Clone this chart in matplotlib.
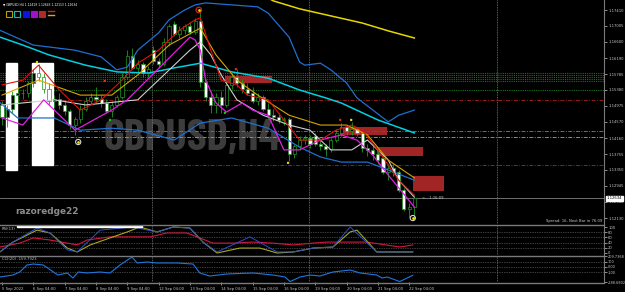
import matplotlib
matplotlib.use("Agg")
import matplotlib.pyplot as plt
from matplotlib.patches import Rectangle

W, H = 625, 292

# ---- price data (GBPUSD H4, 5 Sep 04:00 .. 22 Sep 08:00) ----
opens = [1.1500, 1.1470, 1.1490, 1.1525, 1.1530, 1.1530, 1.1555, 1.1580, 1.1570, 1.1540,
         1.1510, 1.1515, 1.1500, 1.1485, 1.1450, 1.1465, 1.1490, 1.1510, 1.1520, 1.1515,
         1.1505, 1.1485, 1.1500, 1.1520, 1.1570, 1.1625, 1.1595, 1.1605, 1.1580, 1.1639,
         1.1611, 1.1605, 1.1660, 1.1705, 1.1680, 1.1690, 1.1700, 1.1685, 1.1712, 1.1558,
         1.1520, 1.1500, 1.1520, 1.1500, 1.1550, 1.1570, 1.1555, 1.1540, 1.1530, 1.1510,
         1.1520, 1.1490, 1.1475, 1.1470, 1.1462, 1.1465, 1.1375, 1.1395, 1.1410, 1.1415,
         1.1422, 1.1402, 1.1395, 1.1388, 1.1410, 1.1430, 1.1445, 1.1435, 1.1440, 1.1430,
         1.1390, 1.1385, 1.1375, 1.1365, 1.1330, 1.1340, 1.1330, 1.1285, 1.1235, 1.12419]
highs = [1.1510, 1.1500, 1.1535, 1.1545, 1.1540, 1.1560, 1.1590, 1.1605, 1.1580, 1.1555,
         1.1525, 1.1530, 1.1510, 1.1490, 1.1470, 1.1500, 1.1520, 1.1530, 1.1545, 1.1525,
         1.1515, 1.1510, 1.1525, 1.1580, 1.1640, 1.1645, 1.1615, 1.1610, 1.1600, 1.1650,
         1.1620, 1.1670, 1.1705, 1.1712, 1.1700, 1.1705, 1.1710, 1.1720, 1.1738, 1.1565,
         1.1535, 1.1530, 1.1535, 1.1560, 1.1580, 1.1590, 1.1565, 1.1555, 1.1545, 1.1530,
         1.1525, 1.1505, 1.1490, 1.1480, 1.1470, 1.1470, 1.1400, 1.1420, 1.1425, 1.1425,
         1.1430, 1.1415, 1.1400, 1.1415, 1.1440, 1.1455, 1.1450, 1.1458, 1.1445, 1.1440,
         1.1400, 1.1395, 1.1385, 1.1370, 1.1350, 1.1350, 1.1335, 1.1290, 1.1250, 1.12643]
lows = [1.1450, 1.1445, 1.1480, 1.1505, 1.1515, 1.1520, 1.1545, 1.1560, 1.1530, 1.1500,
        1.1495, 1.1490, 1.1475, 1.1440, 1.1425, 1.1455, 1.1485, 1.1500, 1.1505, 1.1495,
        1.1480, 1.1470, 1.1495, 1.1515, 1.1565, 1.1590, 1.1580, 1.1570, 1.1570, 1.1605,
        1.1595, 1.1600, 1.1650, 1.1675, 1.1670, 1.1680, 1.1680, 1.1680, 1.1545, 1.1510,
        1.1480, 1.1480, 1.1480, 1.1495, 1.1540, 1.1545, 1.1530, 1.1525, 1.1505, 1.1500,
        1.1485, 1.1465, 1.1460, 1.1455, 1.1450, 1.1358, 1.1365, 1.1385, 1.1400, 1.1390,
        1.1395, 1.1385, 1.1370, 1.1380, 1.1405, 1.1420, 1.1425, 1.1425, 1.1420, 1.1380,
        1.1370, 1.1360, 1.1350, 1.1325, 1.1310, 1.1320, 1.1280, 1.1230, 1.1215, 1.12113]
closes = [1.1470, 1.1490, 1.1525, 1.1530, 1.1530, 1.1555, 1.1580, 1.1570, 1.1540, 1.1510,
          1.1515, 1.1500, 1.1485, 1.1450, 1.1465, 1.1490, 1.1510, 1.1520, 1.1515, 1.1505,
          1.1485, 1.1500, 1.1520, 1.1570, 1.1625, 1.1595, 1.1605, 1.1580, 1.1590, 1.1611,
          1.1605, 1.1660, 1.1700, 1.1680, 1.1690, 1.1700, 1.1685, 1.1712, 1.1558, 1.1520,
          1.1500, 1.1520, 1.1500, 1.1550, 1.1570, 1.1555, 1.1540, 1.1530, 1.1510, 1.1520,
          1.1490, 1.1475, 1.1470, 1.1462, 1.1465, 1.1375, 1.1395, 1.1410, 1.1415, 1.1400,
          1.1402, 1.1395, 1.1388, 1.1410, 1.1430, 1.1445, 1.1435, 1.1440, 1.1430, 1.1390,
          1.1385, 1.1375, 1.1360, 1.1330, 1.1340, 1.1330, 1.1285, 1.1235, 1.1242, 1.12634]

# ---- indicator lines (bar index, price) ----
yellow_x = [50, 52, 57, 63, 69, 74, 79]
yellow_y = [1.1779, 1.1764, 1.1744, 1.1726, 1.1708, 1.1688, 1.1670]
cyan_x = [-1, 4, 9, 16, 22, 28, 33, 38, 44, 51, 57, 62, 65, 72, 79]
cyan_y = [1.1675, 1.1652, 1.1627, 1.1601, 1.1584, 1.1581, 1.1594, 1.1606, 1.1584, 1.1568,
          1.1538, 1.1518, 1.1505, 1.1462, 1.1429]
upper_x = [-1, 6, 14, 19, 22, 24, 26, 30, 32, 35, 37, 39, 49, 51, 55, 57, 58, 61, 63, 66, 68, 74, 76, 79]
upper_y = [1.1693, 1.1652, 1.1639, 1.1622, 1.1589, 1.1596, 1.1639, 1.1683, 1.1716, 1.1741,
           1.1754, 1.1759, 1.1749, 1.1733, 1.1672, 1.1609, 1.1601, 1.1606, 1.1589, 1.1556,
           1.1518, 1.1457, 1.1474, 1.1487]
lower_x = [-1, 3, 10, 15, 21, 26, 33, 38, 44, 51, 57, 61, 65, 70, 74, 79]
lower_y = [1.1513, 1.1467, 1.1467, 1.1436, 1.1441, 1.1436, 1.1411, 1.1454, 1.1467, 1.1441,
           1.1393, 1.1368, 1.1355, 1.1355, 1.1335, 1.1309]
red_x = [0, 4, 7, 11, 15, 19, 23, 26, 30, 34, 37, 38, 40, 42, 45, 47, 51, 54, 57, 61, 64, 67, 69, 72, 76, 79]
red_y = [1.1551, 1.1563, 1.1601, 1.1538, 1.1487, 1.1513, 1.1563, 1.1606, 1.1639, 1.1690,
         1.1716, 1.1721, 1.1639, 1.1563, 1.1551, 1.1525, 1.1513, 1.1462, 1.1411, 1.1411,
         1.1436, 1.1449, 1.1436, 1.1386, 1.1309, 1.1271]
gold_x = [0, 7, 15, 21, 26, 32, 38, 41, 45, 49, 55, 61, 66, 70, 74, 79]
gold_y = [1.1525, 1.1563, 1.1525, 1.1525, 1.1576, 1.1652, 1.1695, 1.1627, 1.1563, 1.1525,
          1.1474, 1.1449, 1.1449, 1.1424, 1.1360, 1.1315]
white_x = [0, 10, 16, 26, 31, 36, 38, 40, 42, 45, 50, 55, 59, 63, 67, 70, 74, 76, 79]
white_y = [1.1500, 1.1513, 1.1500, 1.1513, 1.1576, 1.1639, 1.1660, 1.1627, 1.1576, 1.1513,
           1.1474, 1.1449, 1.1436, 1.1386, 1.1386, 1.1411, 1.1360, 1.1309, 1.1266]
magenta_x = [0, 4, 8, 14, 21, 24, 36, 37, 38, 39, 41, 43, 46, 48, 51, 54, 57, 61, 65, 68, 71, 74, 79]
magenta_y = [1.1467, 1.1449, 1.1513, 1.1436, 1.1487, 1.1513, 1.1672, 1.1665, 1.1639, 1.1563,
             1.1505, 1.1482, 1.1505, 1.1487, 1.1474, 1.1386, 1.1386, 1.1411, 1.1424, 1.1411,
             1.1373, 1.1322, 1.1241]

# horizontal levels
green_dot_levels = [1.1581, 1.1577, 1.1572, 1.1567, 1.1562, 1.1538]
red_levels = [1.1513, 1.1348]
green_dash_level = 1.1434
olive_dash_level = 1.1419

# zones (bar start, bar end, price low, price high)
zones = [(42.7, 51.7, 1.1556, 1.1574), (64.8, 73.8, 1.1424, 1.1444),
         (71.8, 80.7, 1.1370, 1.1393), (78.7, 84.7, 1.1282, 1.1320)]

# fractal markers
frac_x = [6.7, 19.7, 20.7, 42.7, 44.8, 64.8, 66.9, 54.8]
frac_y = [1.1609, 1.1561, 1.1462, 1.1480, 1.1591, 1.1462, 1.1462, 1.1353]
frac_c = ['#f0e000', '#e03010', '#10d010', '#10d010', '#e03010', '#e03010', '#f0e000', '#f0e000']

price_ticks = [1.17410, 1.17005, 1.16600, 1.16190, 1.15785, 1.15380, 1.14975, 1.14570,
               1.14160, 1.13755, 1.13350, 1.12945, 1.12540, 1.12130]
last_price = 1.12634

time_pos = [0, 6, 12, 18, 24, 30, 36, 42, 48, 54, 60, 66, 72, 78]
time_labels = ["5 Sep 2022", "6 Sep 04:00", "7 Sep 04:00", "8 Sep 04:00", "9 Sep 04:00",
               "12 Sep 04:00", "13 Sep 04:00", "14 Sep 04:00", "15 Sep 04:00", "16 Sep 04:00",
               "19 Sep 04:00", "20 Sep 04:00", "21 Sep 04:00", "22 Sep 04:00"]
separators = [28.7, 58.8, 94.8]

# ---- RSI pane ----
rsi_red_x = [-0.4, 3.4, 6, 9.2, 12.5, 14.4, 16.3, 20.7, 25, 28.4, 31.6, 35.4, 37.9, 40.4,
             44.3, 48.1, 51.9, 55.8, 59.6, 62.3, 69.9, 76.2, 78.7]
rsi_red = [23, 38, 58, 50, 38, 31, 50, 62, 62, 62, 77, 77, 58, 38, 38, 42, 38, 31, 38, 42, 42, 23, 31]
rsi_olive_x = [-0.4, 2.1, 6.7, 9.2, 12.5, 14.4, 16.9, 20.7, 24, 26.4, 29.7, 32.8, 36, 38.5,
               41.2, 45.6, 49.4, 52.7, 55.8, 59.6, 63.4, 66.7, 68, 71.8, 78.7]
rsi_olive = [4, 42, 88, 77, 19, 4, 31, 58, 81, 100, 81, 100, 96, 42, 0, 19, 19, 0, 4, 19, 23, 81, 88, 4, 4]
rsi_blue_x = [-0.4, 2.1, 6.7, 9.2, 12.5, 14.4, 18.8, 25, 29.7, 32.8, 36, 38.5, 41.2, 47.5,
              52.7, 55.8, 59.6, 63.4, 66.7, 71.8, 78.7]
rsi_blue = [4, 42, 96, 77, 12, 4, 88, 100, 81, 100, 96, 42, 4, 62, 4, 4, 19, 23, 100, 4, 4]

# ---- CCI pane ----
cci_x = [-0.4, 2.1, 3.4, 4.8, 6, 7.9, 10.7, 12.5, 13.6, 14.6, 16.3, 18.8, 20.7, 22.6, 24.9,
         25.9, 27.8, 29.7, 33.5, 36.6, 37.9, 39.8, 43.1, 48.1, 51.9, 54.2, 55.2, 57.1, 59, 60.9,
         63.4, 66.7, 68.6, 71.8, 72.8, 73.8, 76.2, 78.7]
cci = [-193, -155, -97, 37, 56, 37, -155, -116, -212, -97, -116, -97, -116, 37, 190, 76, 95,
       76, 76, 56, -116, -174, -135, -116, -155, -193, -280, -193, -155, -174, -97, -59, -116,
       -155, -212, -193, -280, -160]

# ---- figure ----
fig = plt.figure(figsize=(W / 100, H / 100), dpi=100, facecolor='black')
GRID = '#7a7a7a'
TXT = '#c8c8c8'
FS = 2.7


def pane(top, bottom):
    a = fig.add_axes([0, 1 - bottom / H, 604 / W, (bottom - top) / H])
    a.set_facecolor('black')
    a.set_xlim(-0.383, 115.33)
    for s in ['left', 'top', 'bottom']:
        a.spines[s].set_visible(False)
    a.spines['right'].set_color(GRID)
    a.spines['right'].set_linewidth(0.8)
    a.yaxis.tick_right()
    a.tick_params(axis='y', colors=TXT, labelsize=FS, length=2, width=0.5, pad=1)
    a.tick_params(axis='x', length=0, labelbottom=False)
    for s in separators:
        a.axvline(s, color=GRID, lw=0.6, ls=(0, (1, 1)), zorder=1)
    return a


ax = pane(0, 224)
ax.set_ylim(1.119787, 1.176638)
ax.set_yticks(price_ticks)
ax.set_yticklabels([f"{p:.5f}" for p in price_ticks])

ax.text(0.318, 0.38, "GBPUSD,H4", transform=ax.transAxes, ha='center', va='center',
        fontsize=32, fontweight='bold', color='#3c3c3c', zorder=0,
        family=['Barlow Condensed', 'DejaVu Sans'])
ax.text(0.025, 0.035, "razoredge22", transform=ax.transAxes, ha='left', va='bottom',
        fontsize=6.4, fontweight='bold', color='#8c8c8c', zorder=0)

for lv in green_dot_levels:
    ax.axhline(lv, color='#1d701d', lw=0.8, ls=(0, (1, 1)), zorder=1)
for lv in red_levels:
    ax.axhline(lv, color='#9a1c1c', lw=0.7, ls=(0, (4, 1.5, 1, 1.5)), zorder=1)
ax.axhline(green_dash_level, color='#2f9a2f', lw=0.7, ls=(0, (4, 1.5, 1, 1.5)), zorder=1)
ax.axhline(olive_dash_level, color='#9a9a18', lw=0.7, ls=(0, (4, 1.5, 1, 1.5)), zorder=1)
ax.axhline(last_price, color='#808080', lw=0.6, zorder=1)

# left label stacks
ax.add_patch(Rectangle((0.77, 1.1335), 2.1, 0.0271, color='white', zorder=2))
ax.add_patch(Rectangle((5.7, 1.1348), 4.1, 0.0258, color='white', zorder=2))

for z in zones:
    ax.add_patch(Rectangle((z[0], z[2]), z[1] - z[0], z[3] - z[2], color='#b52a2a', alpha=0.9, lw=0, zorder=2))

for xs, ys, c, lw in [(upper_x, upper_y, '#1f6fd0', 0.9), (lower_x, lower_y, '#1f6fd0', 0.9),
                      (cyan_x, cyan_y, '#00d0e0', 1.1), (yellow_x, yellow_y, '#e6d600', 1.1),
                      (white_x, white_y, '#cfcfcf', 0.8), (gold_x, gold_y, '#d8a400', 0.8),
                      (magenta_x, magenta_y, '#e020e0', 0.9), (red_x, red_y, '#e01010', 0.8)]:
    ax.plot(xs, ys, color=c, lw=lw, zorder=4)

GREEN = '#1e9a1e'
for i in range(len(opens)):
    ax.vlines(i, lows[i], highs[i], color=GREEN, lw=0.6, zorder=3)
    bull = closes[i] >= opens[i]
    lo, hi = min(opens[i], closes[i]), max(opens[i], closes[i])
    ax.add_patch(Rectangle((i - 0.3, lo), 0.6, max(hi - lo, 0.00005),
                           facecolor='black' if bull else 'white', edgecolor=GREEN, lw=0.5, zorder=3))

ax.scatter(frac_x, frac_y, s=3, c=frac_c, zorder=5, lw=0)
ax.scatter([14.6, 78.7], [1.1406, 1.12130], s=14, facecolor='none', edgecolor='#d8d8d8', lw=0.8, zorder=5)
ax.scatter([14.6, 78.7], [1.1406, 1.12130], s=4, color='#f0e000', zorder=6, lw=0)
ax.scatter([37.7], [1.1741], s=16, facecolor='none', edgecolor='#d02020', lw=0.9, zorder=5)
ax.scatter([37.7], [1.1741], s=4, color='#f0e000', zorder=6, lw=0)

ax.text(1.005, last_price, "1.12634", transform=ax.get_yaxis_transform(), ha='left', va='center',
        fontsize=FS, color='black', bbox=dict(boxstyle='square,pad=0.15', fc='white', ec='white'))
ax.text(80.5, last_price, "<-- 1:16:09", ha='left', va='center', fontsize=FS, color=TXT, zorder=6)
ax.text(0.997, 0.005, "Spread: 16, Next Bar in 76:09", transform=ax.transAxes, ha='right',
        va='bottom', fontsize=FS, color=TXT)

# header
fig.text(3 / W, 1 - 5 / H, "\u25bc GBPUSD,H4 1.12419 1.12643 1.12113 1.12634", fontsize=2.2,
         color='white', va='center', ha='left')
box_cols = [('#b8a000', False), ('#00c0c8', False), ('#1010e0', True), ('#a010d0', True), ('#b02a2a', True)]
for k, (c, filled) in enumerate(box_cols):
    fig.patches.append(Rectangle(((6 + 8.3 * k) / W, 1 - 16.5 / H), 6 / W, 6 / H, transform=fig.transFigure,
                                 facecolor=c if filled else 'black', edgecolor=c, lw=0.8))
fig.lines.append(plt.Line2D([48 / W, 54 / W], [1 - 11 / H, 1 - 11 / H], transform=fig.transFigure, color='#e02020', lw=1))
fig.lines.append(plt.Line2D([48 / W, 54 / W], [1 - 15 / H, 1 - 15 / H], transform=fig.transFigure, color='#d0b000', lw=1))

# RSI pane
ra = pane(225, 255)
ra.set_ylim(-7.7, 107.7)
for lv in [80, 60, 40, 20]:
    ra.axhline(lv, color=GRID, lw=0.5, ls=(0, (1, 1.5)))
ra.set_yticks([100, 80, 60, 40, 20, 0])
ra.set_yticklabels(["100", "80", "60", "40", "20", "0"])
ra.plot(rsi_red_x, rsi_red, color='#d01840', lw=0.8)
ra.plot(rsi_olive_x, rsi_olive, color='#a8a820', lw=0.8)
ra.plot(rsi_blue_x, rsi_blue, color='#2a4fd0', lw=0.7)
ra.add_patch(Rectangle((2.9, 100), 24, 7.7, color='white', zorder=5))
ra.text(0.003, 0.93, "RSI(13)", transform=ra.transAxes, ha='left', va='top', fontsize=FS, color=TXT)

# CCI pane
ca = pane(256, 282)
ca.set_ylim(-288.6802, 209.7368)
for lv in [100, 0, -100]:
    ca.axhline(lv, color=GRID, lw=0.5, ls=(0, (1, 1.5)))
ca.set_yticks([209.7368, 100, 0, -100, -288.6802])
ca.set_yticklabels(["209.7368", "100", "0.00", "-100", "-288.6802"])
ca.tick_params(axis='y', labelsize=2.5, pad=0.5)
ca.plot(cci_x, cci, color='#1e78e0', lw=0.8)
ca.text(0.003, 0.95, "CCI(20) -159.7923", transform=ca.transAxes, ha='left', va='top', fontsize=FS, color=TXT)
ca.set_xticks(time_pos)
ca.set_xticklabels(time_labels, ha='left')
ca.tick_params(axis='x', colors=TXT, labelsize=FS, length=2, width=0.5, pad=1.5, labelbottom=True)

# pane frames
for yy in [224.5, 255.5, 282.5]:
    fig.lines.append(plt.Line2D([0, 604 / W], [1 - yy / H] * 2, transform=fig.transFigure, color=GRID, lw=1))

fig.savefig("out.png", dpi=100, facecolor='black')
